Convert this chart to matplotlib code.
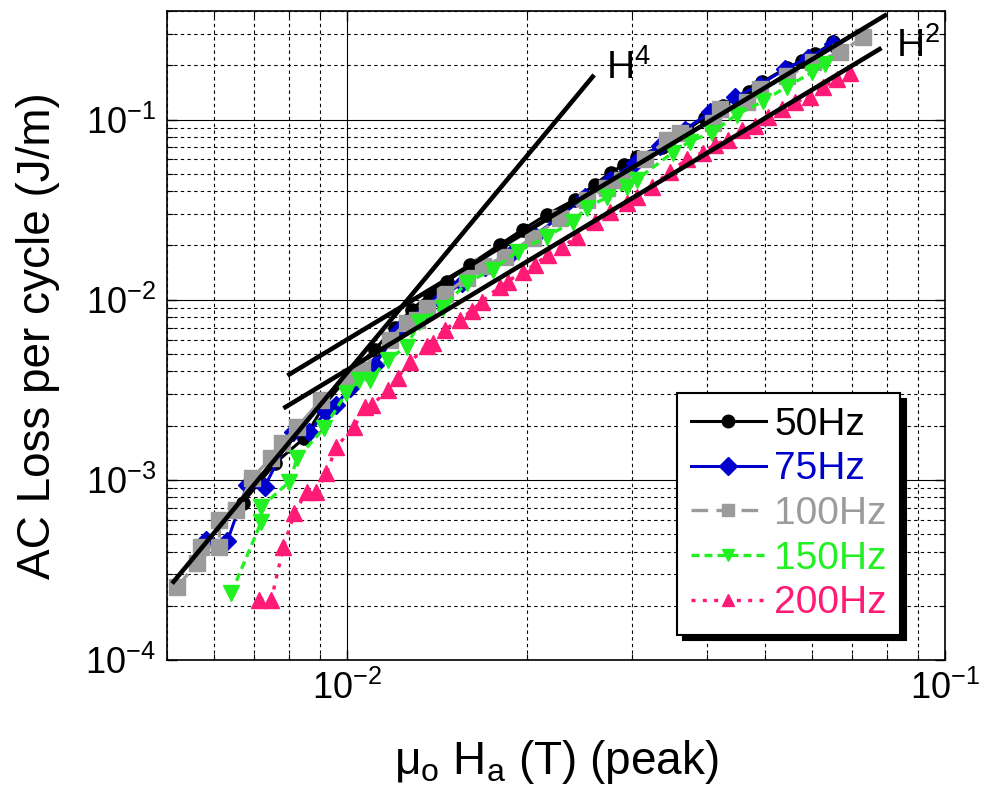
import numpy as np
import matplotlib.pyplot as plt

plt.rcParams['font.family'] = ['Liberation Sans', 'DejaVu Sans']
plt.rcParams['mathtext.fontset'] = 'custom'
plt.rcParams['mathtext.rm'] = 'Liberation Sans'
plt.rcParams['mathtext.it'] = 'Liberation Sans:italic'
plt.rcParams['mathtext.bf'] = 'Liberation Sans:bold'

# measured AC loss, field amplitude mu0*Ha (T) vs loss per cycle (J/m)
x50 = [0.00669, 0.00759, 0.00849, 0.00917, 0.0101, 0.01112, 0.01201, 0.01282, 0.01375, 0.01467,
       0.01603, 0.0180, 0.01966, 0.0216, 0.02403, 0.02596, 0.0276, 0.0291, 0.0305, 0.0336,
       0.0371, 0.03966, 0.0425, 0.0471, 0.0494, 0.0544, 0.0576, 0.0606, 0.0649]
y50 = [7.45e-4, 1.24e-3, 1.71e-3, 2.61e-3, 3.83e-3, 5.28e-3, 6.99e-3, 8.8e-3, 1.066e-2, 1.25e-2,
       1.56e-2, 2.02e-2, 2.45e-2, 2.97e-2, 3.59e-2, 4.35e-2, 5.08e-2, 5.62e-2, 6.23e-2, 7.08e-2,
       8.8e-2, 0.1026, 0.1196, 0.143, 0.161, 0.194, 0.21, 0.23, 0.268]

x75 = [0.00582, 0.00631, 0.00681, 0.00728, 0.00811, 0.00865, 0.00924, 0.0096, 0.0101, 0.01112,
       0.01224, 0.01322, 0.01428, 0.01555, 0.01699, 0.0187, 0.0206, 0.02268, 0.02498, 0.02751,
       0.03028, 0.03334, 0.03672, 0.04044, 0.04452, 0.04901, 0.05398, 0.05897, 0.06494]
y75 = [4.64e-4, 4.58e-4, 9.38e-4, 9.14e-4, 1.85e-3, 1.85e-3, 2.39e-3, 2.61e-3, 3.24e-3, 4.35e-3,
       6.81e-3, 7.94e-3, 1.0e-2, 1.24e-2, 1.51e-2, 1.78e-2, 2.27e-2, 2.89e-2, 3.73e-2, 4.64e-2,
       5.77e-2, 7.17e-2, 8.8e-2, 0.1094, 0.1325, 0.1563, 0.1896, 0.2209, 0.2611]

x100 = [0.00520, 0.00562, 0.00571, 0.00612, 0.00612, 0.00653, 0.00695, 0.00747, 0.00780, 0.00826,
        0.00906, 0.0101, 0.0106, 0.01178, 0.01258, 0.01307, 0.01359, 0.01456, 0.01585, 0.01686,
        0.01835, 0.02044, 0.02268, 0.02517, 0.02719, 0.0288, 0.03147, 0.03425, 0.03601, 0.04091,
        0.04203, 0.04663, 0.04901, 0.05441, 0.06012, 0.06673, 0.07293]
y100 = [2.55e-4, 3.46e-4, 4.25e-4, 4.25e-4, 6.0e-4, 6.8e-4, 1.03e-3, 1.32e-3, 1.61e-3, 1.97e-3,
        2.78e-3, 3.73e-3, 4.08e-3, 6.0e-3, 7.45e-3, 7.74e-3, 9.0e-3, 1.07e-2, 1.32e-2, 1.53e-2,
        1.73e-2, 2.21e-2, 2.85e-2, 3.59e-2, 4.19e-2, 4.64e-2, 6.0e-2, 7.74e-2, 8.47e-2, 9.62e-2,
        0.1137, 0.1243, 0.1468, 0.1733, 0.2073, 0.2356, 0.2855]

x150 = [0.00641, 0.00719, 0.00719, 0.00801, 0.00826, 0.00917, 0.00998, 0.01049, 0.01091, 0.01169,
        0.01258, 0.01322, 0.01445, 0.01585, 0.01752, 0.01929, 0.02158, 0.02385, 0.02517, 0.0272,
        0.02936, 0.03051, 0.03506, 0.03743, 0.04074, 0.04487, 0.04958, 0.05441, 0.05991, 0.06297]
y150 = [2.36e-4, 5.85e-4, 7.08e-4, 9.75e-4, 1.32e-3, 1.95e-3, 3.04e-3, 3.59e-3, 3.59e-3, 4.64e-3,
        5.48e-3, 7.55e-3, 9.03e-3, 1.24e-2, 1.47e-2, 1.85e-2, 2.24e-2, 2.71e-2, 3.24e-2, 3.7e-2,
        4.24e-2, 4.64e-2, 6.56e-2, 7.55e-2, 8.47e-2, 0.1066, 0.1259, 0.1524, 0.1824, 0.2022]

x200 = [0.00714, 0.00747, 0.00783, 0.00817, 0.00856, 0.00889, 0.00924, 0.0096, 0.01029, 0.0107,
        0.01103, 0.01169, 0.01215, 0.01277, 0.01359, 0.0139, 0.01456, 0.01543, 0.01616, 0.0168,
        0.018, 0.01856, 0.01966, 0.0206, 0.02166, 0.02286, 0.02422, 0.02596, 0.02751, 0.02936,
        0.03051, 0.03233, 0.03465, 0.037, 0.03936, 0.04123, 0.04335, 0.04575, 0.04809, 0.05056,
        0.05336, 0.0561, 0.05944, 0.06249, 0.06596, 0.06934]
y200 = [2.15e-4, 2.15e-4, 4.25e-4, 6.56e-4, 8.58e-4, 8.58e-4, 1.09e-3, 1.53e-3, 1.97e-3, 2.54e-3,
        2.61e-3, 3.16e-3, 3.69e-3, 4.53e-3, 5.55e-3, 5.77e-3, 6.81e-3, 7.74e-3, 8.69e-3, 9.75e-3,
        1.18e-2, 1.26e-2, 1.43e-2, 1.56e-2, 1.78e-2, 1.95e-2, 2.24e-2, 2.71e-2, 3.08e-2, 3.46e-2,
        3.73e-2, 4.24e-2, 5.14e-2, 6.0e-2, 6.56e-2, 7.26e-2, 7.74e-2, 8.8e-2, 9.15e-2, 0.1039,
        0.1137, 0.1243, 0.1341, 0.1506, 0.1668, 0.1801]

# power-law guide lines: loss = coef * H^n over a field range
h4_range, h4_coef = [0.0051, 0.0259], 3.93e5
h2a_range, h2a_coef = [0.00795, 0.08], 60.0
h2b_range, h2b_coef = [0.00783, 0.0783], 40.7

c_blue = '#0000cc'
c_gray = '#9b9b9b'
c_green = '#22f022'
c_pink = '#ff1a75'

fig = plt.figure(figsize=(9.85, 7.89), dpi=100)
ax = fig.add_axes([0.1695, 0.1635, 0.7899, 0.8225])

ax.plot(x50, y50, color='k', ls='-', lw=2.2, marker='o', ms=9.5, label='50Hz')
ax.plot(x75, y75, color=c_blue, ls='-', lw=2.2, marker='D', ms=9, label='75Hz')
ax.plot(x100, y100, color=c_gray, ls=(0, (5, 2.5)), lw=2.4, marker='s', ms=11, label='100Hz')
ax.plot(x150, y150, color=c_green, ls=(0, (2.4, 1.5)), lw=2.4, marker='v', ms=11.5, label='150Hz')
ax.plot(x200, y200, color=c_pink, ls=(0, (1.2, 2.2)), lw=2.4, marker='^', ms=11.5, label='200Hz')

for rng, coef, n in [(h4_range, h4_coef, 4), (h2a_range, h2a_coef, 2), (h2b_range, h2b_coef, 2)]:
    xs = np.array(rng)
    ax.plot(xs, coef * xs ** n, color='k', lw=3.3, solid_capstyle='butt')

ax.text(0.0271, 0.169, r'H$^{4}$', fontsize=28, ha='left', va='baseline')
ax.text(0.0828, 0.224, r'H$^{2}$', fontsize=28, ha='left', va='baseline')

ax.set_xscale('log')
ax.set_yscale('log')
ax.set_xlim(0.005, 0.1)
ax.set_ylim(1e-4, 0.4)

ax.grid(True, which='major', color='k', ls='-', lw=0.8)
ax.grid(True, which='minor', color='k', ls=(0, (3, 3)), lw=0.8)
ax.set_axisbelow(True)

ax.tick_params(which='both', direction='in', top=True, right=True, labelsize=26, pad=8)
ax.tick_params(which='major', length=7, width=1)
ax.tick_params(which='minor', length=4, width=0.8)
for s in ax.spines.values():
    s.set_linewidth(1.2)

ax.set_ylabel('AC Loss per cycle (J/m)', fontsize=33, labelpad=18)
ax.set_xlabel(r'μ$_{\mathregular{o}}$ H$_{\mathregular{a}}$ (T) (peak)', fontsize=33, labelpad=22)

leg = ax.legend(loc='upper left', bbox_to_anchor=(0.6555, 0.411), fontsize=28,
                handlelength=1.95, handletextpad=0.2, labelspacing=0.22, borderpad=0.35,
                borderaxespad=0, fancybox=False, framealpha=1, edgecolor='k',
                shadow={'color': 'k', 'alpha': 1.0, 'ox': 4, 'oy': -4})
leg.get_frame().set_linewidth(1.5)
for h in leg.get_lines():
    h.set_markersize(9)
for txt, col in zip(leg.get_texts(), ['k', c_blue, c_gray, c_green, c_pink]):
    txt.set_color(col)

fig.savefig('out.png', dpi=100)
